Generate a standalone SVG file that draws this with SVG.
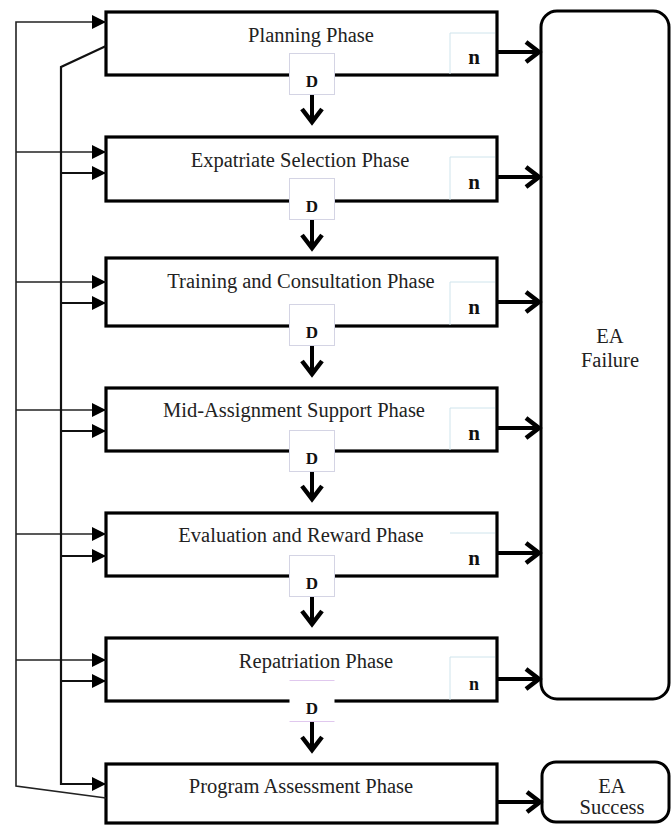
<svg xmlns="http://www.w3.org/2000/svg" width="671" height="825" viewBox="0 0 671 825">
<style>
.box{fill:#fff;stroke:#000;stroke-width:3.2}
.term{fill:#fff;stroke:#000;stroke-width:3}
.lbl{font-family:"Liberation Serif","Times New Roman",serif;font-size:20.5px;fill:#222;text-anchor:middle}
.tag{fill:#fff;stroke:#d4d4e4;stroke-width:1}
.tagline{fill:none;stroke:#cfe4ec;stroke-width:1}
.tl{font-family:"Liberation Serif","Times New Roman",serif;font-weight:bold;fill:#111;text-anchor:middle}
.n{font-size:21px}
.d{font-size:17px}
.fb1{fill:none;stroke:#222;stroke-width:1.6}
.fb2{fill:none;stroke:#111;stroke-width:2.2}
.flow{fill:none;stroke:#000;stroke-width:4}
</style>
<defs>
<marker id="tri" viewBox="-15 -8 16 16" refX="0" refY="0" markerWidth="16" markerHeight="16" markerUnits="userSpaceOnUse" orient="auto">
<path d="M-14,-7 L0,0 L-14,7 Z" fill="#000"/>
</marker>
<marker id="chev" viewBox="-20 -14 24 28" refX="0" refY="0" markerWidth="24" markerHeight="28" markerUnits="userSpaceOnUse" orient="auto">
<path d="M-14,-10 L-1,0 L-14,10" fill="none" stroke="#000" stroke-width="4.5"/>
</marker>
</defs>

<g id="node-planning">
<rect class="box" x="106" y="12" width="391" height="63"/>
<text class="lbl" x="311" y="42">Planning Phase</text>
<path class="tagline" d="M450,74 V33 H495"/>
<text class="tl n" x="474" y="64">n</text>
<rect class="tag" x="289.5" y="53.5" width="45" height="41"/>
<text class="tl d" x="312" y="87">D</text>
</g>

<g id="node-expatriate">
<rect class="box" x="106" y="137" width="391" height="64"/>
<text class="lbl" x="300" y="167">Expatriate Selection Phase</text>
<path class="tagline" d="M450,200 V157 H495"/>
<text class="tl n" x="474" y="189">n</text>
<rect class="tag" x="289.5" y="178.5" width="45" height="41"/>
<text class="tl d" x="312" y="212">D</text>
</g>

<g id="node-training">
<rect class="box" x="106" y="258" width="391" height="68"/>
<text class="lbl" x="301" y="288">Training and Consultation Phase</text>
<path class="tagline" d="M450,325 V282 H495"/>
<text class="tl n" x="474" y="314">n</text>
<rect class="tag" x="289.5" y="304.5" width="45" height="41"/>
<text class="tl d" x="312" y="338">D</text>
</g>

<g id="node-midassignment">
<rect class="box" x="106" y="388" width="391" height="63"/>
<text class="lbl" x="294" y="417">Mid-Assignment Support Phase</text>
<path class="tagline" d="M450,450 V408 H495"/>
<text class="tl n" x="474" y="440">n</text>
<rect class="tag" x="289.5" y="430.5" width="45" height="41"/>
<text class="tl d" x="312" y="464">D</text>
</g>

<g id="node-evaluation">
<rect class="box" x="106" y="513" width="391" height="63"/>
<text class="lbl" x="301" y="542">Evaluation and Reward Phase</text>
<path class="tagline" d="M450,533 H495"/>
<text class="tl n" x="474" y="565">n</text>
<rect class="tag" x="289.5" y="555.5" width="45" height="41"/>
<text class="tl d" x="312" y="589">D</text>
</g>

<g id="node-repatriation">
<rect class="box" x="106" y="638" width="391" height="63"/>
<text class="lbl" x="316" y="668">Repatriation Phase</text>
<path class="tagline" d="M450,700 V657 H495"/>
<text class="tl n" x="474" y="690" style="font-size:18px">n</text>
<rect x="289.5" y="680.5" width="45" height="41" fill="#fff"/>
<path class="tagline" d="M289.5,680.5 H334.5 M289.5,721.5 H334.5" style="stroke:#e0c8ee"/>
<text class="tl d" x="312" y="714">D</text>
</g>

<g id="node-assessment">
<rect class="box" x="106" y="764" width="391" height="59"/>
<text class="lbl" x="301" y="793">Program Assessment Phase</text>
</g>

<g id="node-failure">
<rect class="term" x="541" y="11" width="128" height="688" rx="16"/>
<text class="lbl" x="610" y="343">EA</text>
<text class="lbl" x="610" y="367">Failure</text>
</g>

<g id="node-success">
<rect class="term" x="542" y="762" width="127" height="60" rx="14"/>
<text class="lbl" x="612" y="793">EA</text>
<text class="lbl" x="612" y="814">Success</text>
</g>

<g id="connectors">
<path class="flow" d="M312,95 V123" marker-end="url(#chev)"/>
<path class="flow" d="M312,220 V249" marker-end="url(#chev)"/>
<path class="flow" d="M312,346 V375" marker-end="url(#chev)"/>
<path class="flow" d="M312,472 V500" marker-end="url(#chev)"/>
<path class="flow" d="M312,597 V625" marker-end="url(#chev)"/>
<path class="flow" d="M312,722 V751" marker-end="url(#chev)"/>
<path class="flow" d="M498,52 H540" marker-end="url(#chev)"/>
<path class="flow" d="M498,177 H540" marker-end="url(#chev)"/>
<path class="flow" d="M498,302 H540" marker-end="url(#chev)"/>
<path class="flow" d="M498,428 H540" marker-end="url(#chev)"/>
<path class="flow" d="M498,553 H540" marker-end="url(#chev)"/>
<path class="flow" d="M498,679 H540" marker-end="url(#chev)"/>
<path class="flow" d="M498,802 H541" marker-end="url(#chev)"/>
<path class="fb1" d="M106,798 L16,786 V22 H106" marker-end="url(#tri)"/>
<path class="fb1" d="M16,152 H106" marker-end="url(#tri)"/>
<path class="fb1" d="M16,282 H106" marker-end="url(#tri)"/>
<path class="fb1" d="M16,410 H106" marker-end="url(#tri)"/>
<path class="fb1" d="M16,534 H106" marker-end="url(#tri)"/>
<path class="fb1" d="M16,660 H106" marker-end="url(#tri)"/>
<path class="fb2" d="M106,46 L61,67 V784 H106" marker-end="url(#tri)"/>
<path class="fb2" d="M61,173 H106" marker-end="url(#tri)"/>
<path class="fb2" d="M61,303 H106" marker-end="url(#tri)"/>
<path class="fb2" d="M61,431 H106" marker-end="url(#tri)"/>
<path class="fb2" d="M61,556 H106" marker-end="url(#tri)"/>
<path class="fb2" d="M61,681 H106" marker-end="url(#tri)"/>
</g>
</svg>
